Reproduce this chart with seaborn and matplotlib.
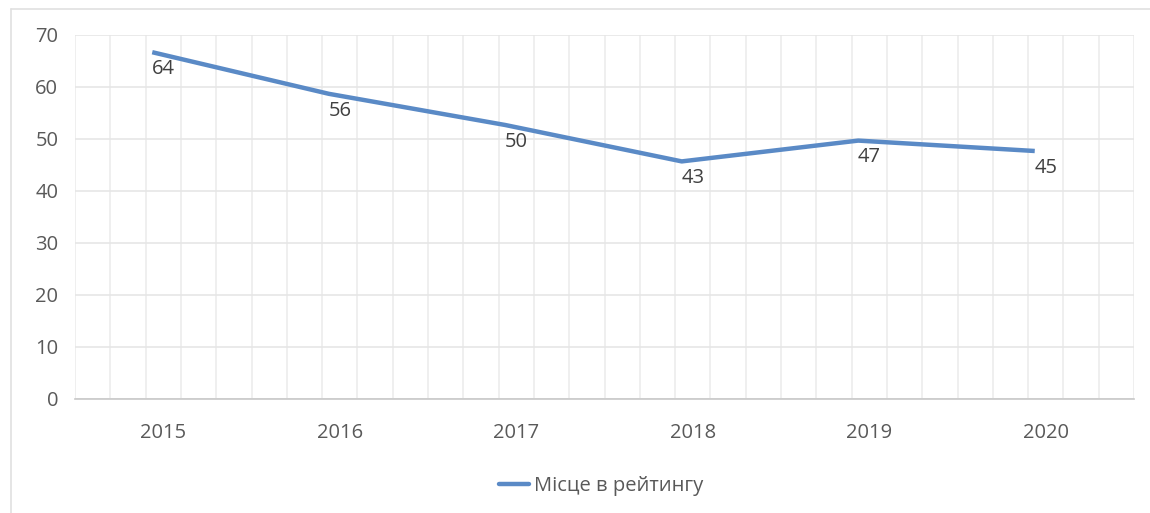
import matplotlib
matplotlib.use("Agg")
import matplotlib.pyplot as plt
from matplotlib.transforms import ScaledTranslation
from matplotlib.lines import Line2D
import seaborn as sns
import pandas as pd
import numpy as np

years = ["2015", "2016", "2017", "2018", "2019", "2020"]
values = [64, 56, 50, 43, 47, 45]
series_name = "Місце в рейтингу"
yticks = [0, 10, 20, 30, 40, 50, 60, 70]

sns.set_theme(style="white")
plt.rcParams['font.family'] = ['Open Sans', 'DejaVu Sans']

W, H, DPI = 1150, 513, 100
FS = 14.5
fig = plt.figure(figsize=(W / DPI, H / DPI), dpi=DPI)
ax = fig.add_axes([75 / W, 1 - 399 / H, (1134 - 75) / W, (399 - 35) / H])

df = pd.DataFrame({"year": years, "value": values})
xpos = np.arange(len(years))
df["x"] = xpos

line_color = "#5A8AC6"
sns.lineplot(data=df, x="x", y="value", ax=ax, color=line_color,
             linewidth=3.2, solid_capstyle="butt", legend=False)
# the reference draws the line slightly shifted relative to its data labels
ln = ax.lines[0]
ln.set_transform(ax.transData + ScaledTranslation(-11 / DPI, 14 / DPI, fig.dpi_scale_trans))

txt_color = "#404040"
tick_color = "#595959"
for x, v in zip(xpos, values):
    ax.annotate(str(v), (x, v), xytext=(0, -2), textcoords="offset points",
                ha="center", va="center", fontsize=FS, color=txt_color)

ax.set_xlim(-0.5, len(years) - 0.5)
ax.set_ylim(0, 70)
ax.set_xticks(xpos)
ax.set_xticklabels(years)
ax.set_yticks(yticks)
ax.set_yticklabels([str(t) for t in yticks])
ax.set_xticks(np.arange(-0.5, len(years) - 0.5 + 1e-6, 0.2), minor=True)
ax.tick_params(axis="both", which="both", length=0, colors=tick_color, labelsize=FS)
ax.tick_params(axis="y", pad=12)
ax.tick_params(axis="x", pad=17)

ax.grid(False)
ax.yaxis.grid(True, which="major", color="#e6e6e6", linewidth=1.2)
ax.xaxis.grid(True, which="minor", color="#ececec", linewidth=1.2)
ax.set_axisbelow(True)
for s in ["top", "right", "left"]:
    ax.spines[s].set_visible(False)
ax.spines["bottom"].set_color("#c8c8c8")
ax.spines["bottom"].set_linewidth(1.2)
ax.set_xlabel("")
ax.set_ylabel("")

handle = Line2D([0], [0], color=line_color, linewidth=3.2)
fig.legend([handle], [series_name], loc="center", bbox_to_anchor=(601 / W, 1 - 486 / H),
           frameon=False, fontsize=FS, labelcolor=tick_color, handlelength=1.5,
           handletextpad=0.25)

# outer chart border (top and left visible)
fig.add_artist(Line2D([11 / W, 1], [1 - 9 / H, 1 - 9 / H], color="#e0e0e0", linewidth=1.2,
                      transform=fig.transFigure))
fig.add_artist(Line2D([11 / W, 11 / W], [0, 1 - 9 / H], color="#e0e0e0", linewidth=1.2,
                      transform=fig.transFigure))

fig.savefig("out.png", dpi=DPI, facecolor="white")
